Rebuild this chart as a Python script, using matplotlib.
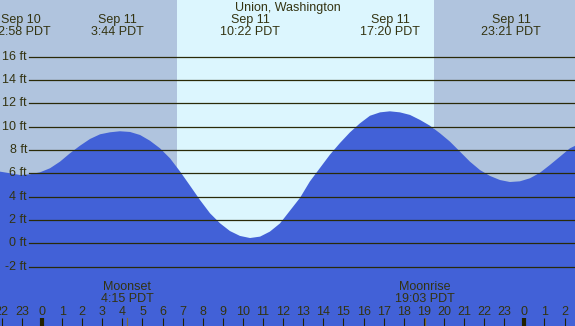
import matplotlib
matplotlib.use("Agg")
import matplotlib.pyplot as plt

# ---- data (hours relative to Sep 11 00:00 PDT) ----
tide_hours = [-2.09, -1.59, -1.09, -0.60, -0.10, 0.40, 0.90, 1.39, 1.89, 2.39, 2.89, 3.38,
              3.88, 4.38, 4.88, 5.37, 5.87, 6.37, 6.87, 7.36, 7.86, 8.36, 8.86, 9.35,
              9.85, 10.35, 10.85, 11.34, 11.84, 12.34, 12.84, 13.33, 13.83, 14.33, 14.83,
              15.32, 15.82, 16.32, 16.82, 17.31, 17.81, 18.31, 18.81, 19.30, 19.80, 20.30,
              20.80, 21.29, 21.79, 22.29, 22.79, 23.28, 23.78, 24.28, 24.78, 25.27, 25.77,
              26.27, 26.52]
tide_ft = [6.14, 6.0, 5.85, 5.91, 6.08, 6.43, 7.0, 7.71, 8.36, 8.94, 9.34, 9.51,
           9.6, 9.54, 9.28, 8.79, 8.14, 7.28, 6.15, 4.95, 3.71, 2.57, 1.71, 1.05,
           0.63, 0.45, 0.57, 1.0, 1.7, 2.8, 3.9, 5.3, 6.45, 7.6, 8.6,
           9.5, 10.28, 10.93, 11.22, 11.31, 11.22, 11.0, 10.57, 10.08, 9.43, 8.71,
           7.85, 7.0, 6.28, 5.77, 5.42, 5.25, 5.31, 5.57, 6.05, 6.71, 7.42,
           8.14, 8.35]

extreme_hours = [-1.03, 3.73, 10.37, 17.33, 23.35]
extreme_dates = ["Sep 10", "Sep 11", "Sep 11", "Sep 11", "Sep 11"]
extreme_times = ["22:58 PDT", "3:44 PDT", "10:22 PDT", "17:20 PDT", "23:21 PDT"]

sunrise, sunset = 6.72, 19.5
moon_hours = [4.25, 19.05]
moon_names = ["Moonset", "Moonrise"]
moon_times = ["4:15 PDT", "19:03 PDT"]

grid_ft = [-2, 0, 2, 4, 6, 8, 10, 12, 14, 16]
hour_ticks = list(range(-2, 27))
title = "Union, Washington"

# ---- styling ----
plt.rcParams['font.family'] = ['Liberation Sans', 'DejaVu Sans']
TXT = '#333311'
NIGHT = '#b0c4de'
DAY = '#dcf6fe'
WATER = '#4261d7'
FS = 9

W, H = 575, 326
fig = plt.figure(figsize=(W / 100, H / 100), dpi=100)
ax = fig.add_axes([0, 0, 1, 1])
x0, x1 = -2.09, 26.52
y_top, y_bot = 20.85, -7.09
ax.set_xlim(x0, x1)
ax.set_ylim(y_bot, y_top)
ax.axis('off')

def py(p):
    # pixel row -> feet
    return y_top - (y_top - y_bot) * p / H

ax.axvspan(x0, x1, color=NIGHT, zorder=0, lw=0)
ax.axvspan(sunrise, sunset, color=DAY, zorder=1, lw=0)
ax.fill_between(tide_hours, tide_ft, y_bot - 1, color=WATER, zorder=2, lw=0)

for g in grid_ft:
    ax.axhline(g, xmin=29 / W, xmax=1, color='#2a2a08', lw=0.9, zorder=3)
    ax.text(x0 + (x1 - x0) * 27 / W, g, f"{g} ft", ha='right', va='center',
            fontsize=FS, color=TXT, zorder=4)

ax.text((x0 + x1) / 2, py(7.5), title, ha='center', va='center', fontsize=FS, color=TXT, zorder=4)
for h, d, t in zip(extreme_hours, extreme_dates, extreme_times):
    ax.text(h, py(19.5), d, ha='center', va='center', fontsize=FS, color=TXT, zorder=4)
    ax.text(h, py(31.5), t, ha='center', va='center', fontsize=FS, color=TXT, zorder=4)

for h, n, t in zip(moon_hours, moon_names, moon_times):
    ax.text(h, py(287), n, ha='center', va='center', fontsize=FS, color=TXT, zorder=4)
    ax.text(h, py(299), t, ha='center', va='center', fontsize=FS, color=TXT, zorder=4)
    ax.plot([h, h], [py(318), py(327)], color='#7a6a3a', lw=0.9, zorder=4)

for h in hour_ticks:
    ax.text(h, py(312), str(h % 24), ha='center', va='center', fontsize=FS, color=TXT, zorder=4)
    lw = 3.0 if h % 24 == 0 else 0.8
    ax.plot([h, h], [py(318), py(327)], color='#222200', lw=lw, zorder=4,
            solid_capstyle='butt')

fig.savefig("out.png", dpi=100)
